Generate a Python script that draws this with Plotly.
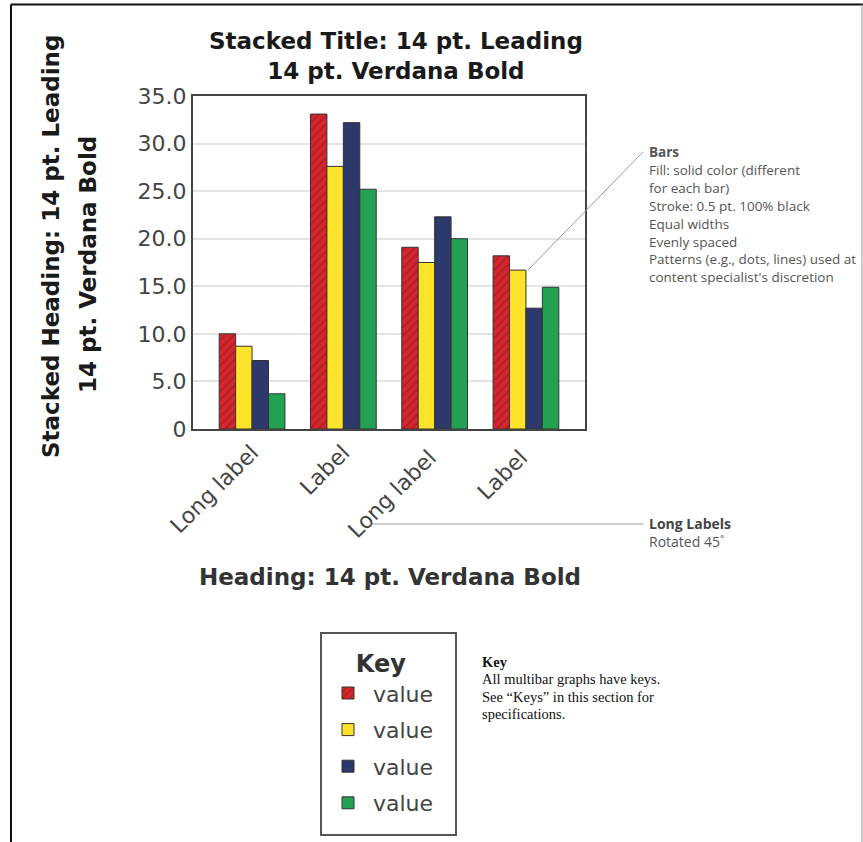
import plotly.graph_objects as go

# chart values
categories = ["Long label", "Label", "Long label ", "Label "]
series_names = ["value", "value", "value", "value"]
red_values = [10.0, 33.1, 19.1, 18.2]
yellow_values = [8.7, 27.6, 17.5, 16.7]
navy_values = [7.2, 32.2, 22.3, 12.7]
green_values = [3.7, 25.2, 20.0, 14.9]
y_tickvals = [0, 5, 10, 15, 20, 25, 30, 35]
y_ticktext = ["0", "5.0", "10.0", "15.0", "20.0", "25.0", "30.0", "35.0"]

bars_note = [
    "<b>Bars</b>",
    "Fill: solid color (different",
    "for each bar)",
    "Stroke: 0.5 pt. 100% black",
    "Equal widths",
    "Evenly spaced",
    "Patterns (e.g., dots, lines) used at",
    "content specialist's discretion",
]
key_note = [
    "<b>Key</b>",
    "All multibar graphs have keys.",
    "See “Keys” in this section for",
    "specifications.",
]

VERDANA = "DejaVu Sans"
W, H = 863, 842
L, R, T, B = 193, 585, 96, 429


def px_x(x):
    return (x - L) / (R - L)


def px_y(y):
    return (B - y) / (B - T)


series = [
    (red_values, "#d8262e", dict(shape="/", fgcolor="#8a1a1c", size=6, solidity=0.35)),
    (yellow_values, "#fde32a", None),
    (navy_values, "#2d396b", None),
    (green_values, "#22a152", None),
]

fig = go.Figure()
for i, (vals, color, pattern) in enumerate(series):
    marker = dict(color=color, line=dict(color="#333333", width=1))
    if pattern:
        marker["pattern"] = pattern
    fig.add_trace(go.Bar(
        x=categories, y=vals, name=series_names[i], marker=marker,
        legendgroup=f"g{i}",
    ))

fig.update_layout(
    width=W, height=H,
    margin=dict(l=L, r=W - R, t=T, b=H - B),
    plot_bgcolor="white", paper_bgcolor="white",
    barmode="group", bargap=0.28, bargroupgap=0,
    showlegend=True,
    legend=dict(
        x=px_x(323), y=px_y(641), xanchor="left", yanchor="top",
        borderwidth=0, bgcolor="rgba(0,0,0,0)",
        font=dict(family=VERDANA, size=22, color="#444444"),
        title=dict(text="<b>Key</b>", side="top center",
                   font=dict(family=VERDANA, size=24, color="#333333")),
        tracegroupgap=5, itemwidth=40, entrywidth=100,
    ),
)

fig.update_xaxes(
    range=[-0.647, 3.647],
    tickangle=-45,
    tickfont=dict(family=VERDANA, size=22, color="#444444"),
    showline=True, linecolor="#444444", linewidth=2, mirror=True,
    ticks="",
)
fig.update_yaxes(
    range=[0, 35],
    tickvals=y_tickvals, ticktext=y_ticktext,
    tickfont=dict(family=VERDANA, size=22, color="#444444"),
    showline=True, linecolor="#444444", linewidth=2, mirror=True,
    showgrid=True, gridcolor="#e4e4e4", gridwidth=2,
    ticks="", zeroline=False,
)

head_font = dict(family=VERDANA, size=23, color="#1a1a1a")
ann = []
# stacked title
ann.append(dict(text="<b>Stacked Title: 14 pt. Leading<br>14 pt. Verdana Bold</b>",
                x=px_x(396), y=px_y(56), font=head_font))
# stacked y heading, two rotated lines
ann.append(dict(text="<b>Stacked Heading: 14 pt. Leading</b>", x=px_x(51), y=px_y(247),
                textangle=-90, font=head_font))
ann.append(dict(text="<b>14 pt. Verdana Bold</b>", x=px_x(88), y=px_y(265),
                textangle=-90, font=head_font))
# x heading
ann.append(dict(text="<b>Heading: 14 pt. Verdana Bold</b>", x=px_x(390), y=px_y(577),
                font=dict(family=VERDANA, size=23, color="#333333")))
# bars note
for k, line in enumerate(bars_note):
    ann.append(dict(text=line, x=px_x(647), y=px_y(152 + k * 17.9), xanchor="left",
                    font=dict(family="Open Sans", size=13.5, color="#555555")))
# long labels note
ann.append(dict(text="<b>Long Labels</b>", x=px_x(647), y=px_y(523), xanchor="left",
                font=dict(family="Open Sans", size=14, color="#444444")))
ann.append(dict(text="Rotated 45˚", x=px_x(647), y=px_y(541), xanchor="left",
                font=dict(family="Open Sans", size=14, color="#555555")))
# key note
for k, line in enumerate(key_note):
    ann.append(dict(text=line, x=px_x(480), y=px_y(662 + k * 17.3), xanchor="left",
                    font=dict(family="Liberation Serif", size=14.5, color="#111111")))
for a in ann:
    a.update(xref="paper", yref="paper", showarrow=False)
    a.setdefault("xanchor", "center")
    a.setdefault("yanchor", "middle")
fig.update_layout(annotations=ann)

shapes = [
    # key box
    dict(type="rect", x0=px_x(321), y0=px_y(633), x1=px_x(456), y1=px_y(835),
         line=dict(color="#555555", width=2)),
    # callout lines
    dict(type="line", x0=px_x(528), y0=px_y(270), x1=px_x(643), y1=px_y(152),
         line=dict(color="#9a9a9a", width=1)),
    dict(type="line", x0=px_x(373), y0=px_y(524), x1=px_x(643), y1=px_y(524),
         line=dict(color="#9a9a9a", width=1)),
    # page frame
    dict(type="line", x0=px_x(11), y0=px_y(4.5), x1=px_x(863), y1=px_y(4.5),
         line=dict(color="#111111", width=2)),
    dict(type="line", x0=px_x(11), y0=px_y(4.5), x1=px_x(11), y1=px_y(842),
         line=dict(color="#111111", width=2)),
    dict(type="line", x0=px_x(862), y0=px_y(4.5), x1=px_x(862), y1=px_y(842),
         line=dict(color="#999999", width=1)),
]
for s in shapes:
    s.update(xref="paper", yref="paper")
fig.update_layout(shapes=shapes)

fig.write_html("out.html", config={"displayModeBar": False},
               post_script="document.body.style.margin='0px';")
